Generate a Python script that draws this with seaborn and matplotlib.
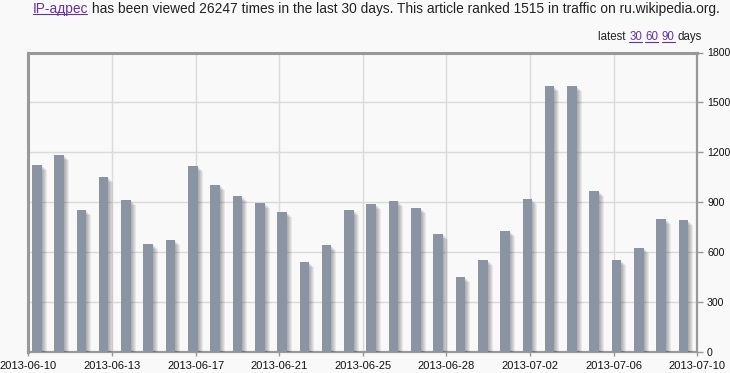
import matplotlib
matplotlib.use("Agg")
import matplotlib.pyplot as plt
import matplotlib.patheffects as pe
import seaborn as sns
import pandas as pd

# ---- data ----
dates = pd.date_range("2013-06-10", periods=30, freq="D").strftime("%Y-%m-%d").tolist()
views = [1126, 1182, 855, 1053, 911, 648, 670, 1116, 1005, 936,
         894, 839, 540, 642, 851, 890, 908, 864, 711, 449,
         551, 726, 920, 1600, 1600, 964, 550, 622, 798, 792]
xtick_labels = ["2013-06-10", "2013-06-13", "2013-06-17", "2013-06-21", "2013-06-25",
                "2013-06-28", "2013-07-02", "2013-07-06", "2013-07-10"]
yticks = [0, 300, 600, 900, 1200, 1500, 1800]

article = "IP-адрес"
summary = " has been viewed 26247 times in the last 30 days. This article ranked 1515 in traffic on ru.wikipedia.org."
period_links = ["30", "60", "90"]

df = pd.DataFrame({"date": dates, "views": views})

sns.set_theme(style="white")
plt.rcParams["font.family"] = ["Liberation Sans", "DejaVu Sans"]

W, H = 730, 373
fig = plt.figure(figsize=(W / 100, H / 100), dpi=100)
fig.patch.set_facecolor("#f9f9f9")

ax_l, ax_r, ax_t, ax_b = 28.3, 697.3, 52.5, 351.7
ax = fig.add_axes([ax_l / W, (H - ax_b) / H, (ax_r - ax_l) / W, (ax_b - ax_t) / H])
ax.set_facecolor("#f9f9f9")

sns.barplot(data=df, x="date", y="views", color="#8a94a3", saturation=1,
            width=0.43, ax=ax, zorder=3)

px = 0.72  # points per pixel
shadow = [pe.SimplePatchShadow(offset=(k * px, -k * px), shadow_rgbFace="k", alpha=0.075)
          for k in (5, 4, 3, 2, 1)] + [pe.Normal()]
for p in ax.patches:
    p.set_edgecolor("none")
    p.set_path_effects(shadow)

n = len(dates)
x0 = -0.38
ax.set_xlim(x0, x0 + n)
ax.set_ylim(yticks[0], yticks[-1])
nt = len(xtick_labels)
ax.set_xticks([x0 + k * n / (nt - 1) for k in range(nt)])
ax.set_xticklabels(xtick_labels)
ax.set_yticks(yticks)
ax.set_yticklabels([str(v) for v in yticks])
ax.yaxis.tick_right()
ax.set_xlabel("")
ax.set_ylabel("")

ax.grid(True, color="#dadada", linewidth=1.0, zorder=0)
ax.set_axisbelow(True)
for name, s in ax.spines.items():
    s.set_color("#999999")
    s.set_linewidth(2.2 if name in ("top", "left") else 1.6)
    s.set_visible(True)
ax.tick_params(axis="x", bottom=True, length=3, width=1, color="#999999",
               pad=4, labelsize=8, labelcolor="#111111")
ax.tick_params(axis="y", right=True, left=False, length=4, width=1, color="#999999",
               pad=3, labelsize=7.6, labelcolor="#111111")

# ---- header texts ----
fig.canvas.draw()
r = fig.canvas.get_renderer()
link = "#663399"
fs = 9.9
y_title = 1 - 8.5 / H
t1 = fig.text(33 / W, y_title, article, color=link, fontsize=fs, va="center", ha="left")
bb = t1.get_window_extent(r)
fig.add_artist(plt.Line2D([bb.x0 / W, (bb.x1 - 1) / W], [(H - 13.5) / H] * 2, color=link, lw=0.8))
fig.text(bb.x1 / W, y_title, summary, color="#222222", fontsize=fs, va="center", ha="left")

# "latest 30 60 90 days" right-aligned
fs2 = 8.3
y2 = 1 - 37 / H
parts = [("latest ", "#222222", False)]
for lk in period_links:
    parts.append((lk, link, True))
    parts.append((" ", "#222222", False))
parts.append(("days", "#222222", False))
widths = []
for txt, c, u in parts:
    tt = fig.text(0, 0, txt, fontsize=fs2)
    widths.append(tt.get_window_extent(r).width)
    tt.remove()
total = sum(widths)
xcur = 702 - total
for (txt, c, u), w in zip(parts, widths):
    fig.text(xcur / W, y2, txt, color=c, fontsize=fs2, va="center", ha="left")
    if u:
        fig.add_artist(plt.Line2D([xcur / W, (xcur + w) / W], [(H - 42) / H] * 2,
                                  color=c, lw=0.8))
    xcur += w

fig.savefig("out.png", dpi=100, facecolor=fig.get_facecolor())
